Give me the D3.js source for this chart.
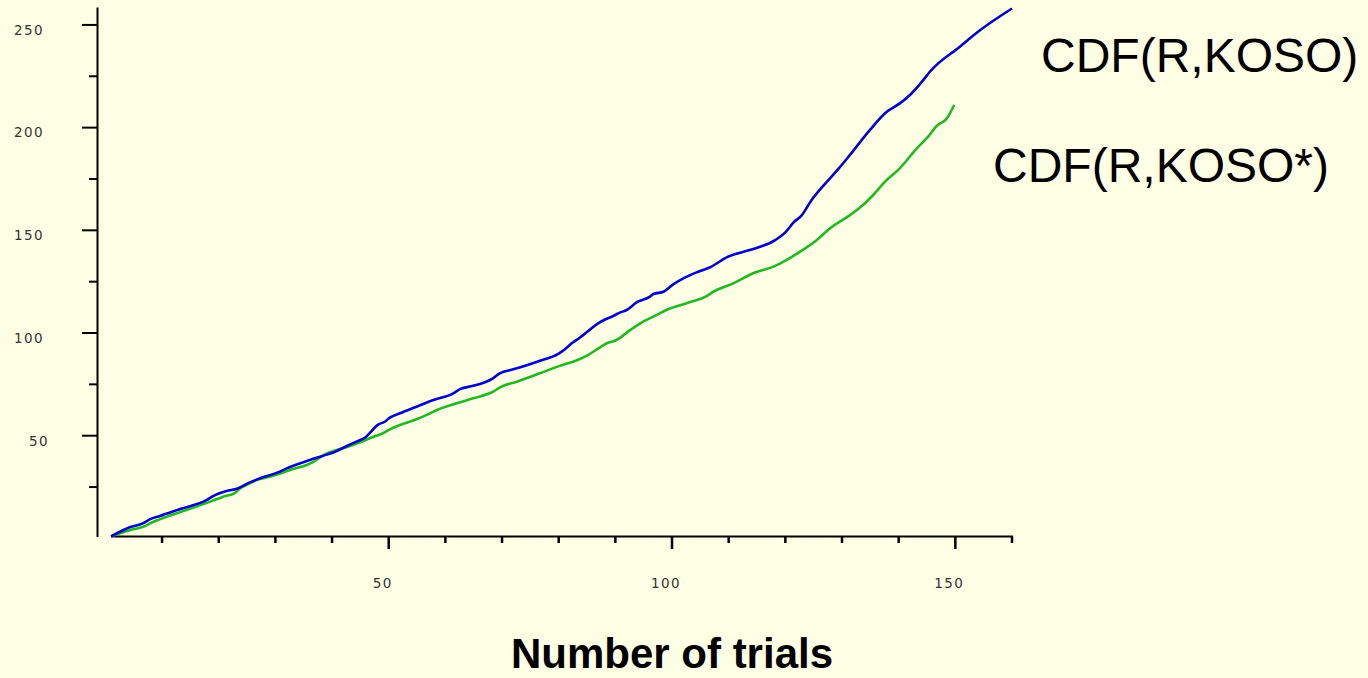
<!DOCTYPE html>
<html>
<head>
<meta charset="utf-8">
<script src="https://cdn.jsdelivr.net/npm/d3@7"></script>
<style>
    body { margin: 0; background: #FFFFE6; }
    .tickLabel { font-family: "DejaVu Sans", sans-serif; font-size: 13.5px; letter-spacing: 1.4px; fill: #333; }
</style>
</head>
<body>
<div id="chart"></div>
<script>
// trials and cumulative values
const koso_trials = [1,4.3,6.6,7.9,9.6,13.2,17.9,19,21.4,23.2,25.5,27.3,30.8,32,36.1,37.9,40.8,42.6,44.3,45.8,48.2,49.3,50.2,52,54.9,57.9,61.4,62.6,64.3,68.4,69.6,72,76.7,80,81.1,82.3,83.7,87.3,89.6,90.8,92,93.8,96.1,96.7,98.5,100.2,102,104.6,106.7,109.9,113.7,118.2,120,121.5,122.8,124.7,126.8,129.4,131.4,134.9,137.9,140.2,142,144.3,145.5,150.8,154.4,160];
const koso_values = [1,5.4,7.3,9.4,10.9,14.3,18.7,20.6,23.1,24.2,27.3,29.3,32.5,34.1,38.2,39.8,42.5,45,47.1,49,55.5,56.8,58.8,60.9,64.1,67.4,70.6,72.7,73.9,77.9,80.4,82.3,86.5,90,92.1,95,97.7,105.3,108.3,109.9,111.2,115,117.7,119,120.1,123.7,126.6,129.8,132,137.2,140.4,145.2,149,154,157,165,172,180,186.7,198.8,207.7,211.8,215.9,223,227.2,239.4,247.5,258];

const kosoStar_trials = [1,4.9,6.7,8.5,10.8,14.3,18.5,20.8,22.9,23.8,25.5,26.7,29,32.6,36.7,37.9,39.1,40.8,43.2,45.5,47.3,49,50.2,52,54.9,57.3,58.5,62,64.9,68.4,69.9,72.6,76.7,80.2,83,85,87,88.5,90.2,92.6,94.9,97.3,99,102.6,106.1,107.3,110.8,114.3,117.9,122.6,125.5,127.9,131.4,133.7,135.5,137.6,140.2,143.2,145.2,146.7,148.5,149.8];
const kosoStar_values = [1,4.4,5.7,8.1,10.6,13.8,17.9,20.3,22.2,24.4,26.8,28.4,30,33.3,37.3,39.5,41.4,43,45,47.4,49.5,51.2,53.1,55.2,58,60.9,62.5,65.8,68.2,71.4,73.9,76.3,80.4,84,86.5,89,92.5,95,96.6,101.4,105.5,108.8,111.2,114.5,118,120.1,124.2,129.1,132.3,139.6,145.2,151,157.4,162.3,167.2,173.7,180.2,189.9,195.6,200.8,204.5,211];

const xTicks = d3.range(10, 161, 10);
const xLabels = [50, 100, 150];
const yTicks = d3.range(25, 251, 25);
const yLabels = [50, 100, 150, 200, 250];
const seriesNames = ["CDF(R,KOSO)", "CDF(R,KOSO*)"];
const xTitle = "Number of trials";

const width = 1368;
const height = 678;
const blueColour = "#0000D0";
const greenColour = "#22B822";

let svg = d3.select("#chart")
    .append("svg").attr("width", width).attr("height", height)
    .style("display", "block");

svg.append("rect").attr("width", width).attr("height", height).attr("fill", "#FFFFE6");

const x = d3.scaleLinear().domain([0, 160]).range([105.4, 1012]);
const y = d3.scaleLinear().domain([0, 258]).range([538.4, 8.5]);

// y axis
let yAxis = svg.append("g");
yAxis.append("line")
    .attr("x1", 97.5).attr("x2", 97.5)
    .attr("y1", y(258) - 1).attr("y2", 537)
    .attr("stroke", "#000").attr("stroke-width", 2);
yAxis.selectAll("line.tick")
    .data(yTicks)
    .enter()
    .append("line")
    .attr("class", "tick")
    .attr("x1", function(d){ return yLabels.includes(d) ? 82 : 89; })
    .attr("x2", 97.5)
    .attr("y1", d => y(d)).attr("y2", d => y(d))
    .attr("stroke", "#000").attr("stroke-width", 2);
yAxis.selectAll("text")
    .data(yLabels)
    .enter()
    .append("text")
    .attr("class", "tickLabel")
    .attr("x", function(d){ return String(d).length === 2 ? 29 : 14; })
    .attr("y", d => y(d) + 5)
    .attr("dy", "0.36em")
    .text(d => d);

// x axis
let xAxis = svg.append("g");
xAxis.append("line")
    .attr("x1", x(1)).attr("x2", x(160) + 1)
    .attr("y1", 536.5).attr("y2", 536.5)
    .attr("stroke", "#000").attr("stroke-width", 2);
xAxis.selectAll("line.tick")
    .data(xTicks)
    .enter()
    .append("line")
    .attr("class", "tick")
    .attr("x1", d => x(d)).attr("x2", d => x(d))
    .attr("y1", 536.5)
    .attr("y2", function(d){ return xLabels.includes(d) ? 549 : 543; })
    .attr("stroke", "#000").attr("stroke-width", 2.5);
xAxis.selectAll("text")
    .data(xLabels)
    .enter()
    .append("text")
    .attr("class", "tickLabel")
    .attr("x", d => x(d) - 6)
    .attr("y", 583)
    .attr("dy", "0.36em")
    .attr("text-anchor", "middle")
    .text(d => d);

svg.append("text")
    .attr("x", 672).attr("y", 668)
    .attr("text-anchor", "middle")
    .style("font-family", "'Liberation Sans', Arial, sans-serif")
    .style("font-weight", "bold")
    .style("font-size", "42px")
    .text(xTitle);

// curves
const line = d3.line()
    .x(d => x(d[0]))
    .y(d => y(d[1]))
    .curve(d3.curveMonotoneX);

const series = [
    { pts: d3.zip(koso_trials, koso_values), colour: blueColour },
    { pts: d3.zip(kosoStar_trials, kosoStar_values), colour: greenColour }
];

svg.append("g").selectAll("path")
    .data(series.slice().reverse())
    .enter()
    .append("path")
    .attr("d", d => line(d.pts))
    .attr("fill", "none")
    .attr("stroke", d => d.colour)
    .attr("stroke-width", 2.6)
    .attr("stroke-linejoin", "round");

// series labels
svg.append("g").selectAll("text")
    .data(seriesNames)
    .enter()
    .append("text")
    .attr("x", function(d,i){ return i === 0 ? 1041 : 993; })
    .attr("y", function(d,i){ return i === 0 ? 72 : 182; })
    .style("font-family", "'Liberation Sans', Arial, sans-serif")
    .style("font-size", "48px")
    .attr("fill", "#000")
    .text(d => d);
</script>
</body>
</html>
